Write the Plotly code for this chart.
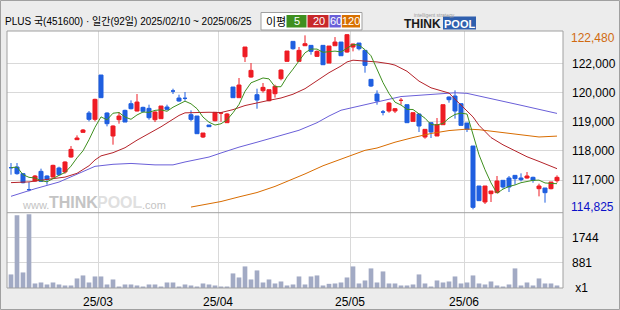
import plotly.graph_objects as go

# ---------------- data ----------------
dates = ["2025-02-10", "2025-02-11", "2025-02-12", "2025-02-13", "2025-02-14", "2025-02-17", "2025-02-18",
         "2025-02-19", "2025-02-20", "2025-02-21", "2025-02-24", "2025-02-25", "2025-02-26", "2025-02-27",
         "2025-02-28",
         "2025-03-04", "2025-03-05", "2025-03-06", "2025-03-07", "2025-03-10", "2025-03-11", "2025-03-12",
         "2025-03-13", "2025-03-14", "2025-03-17", "2025-03-18", "2025-03-19", "2025-03-20", "2025-03-21",
         "2025-03-24", "2025-03-25", "2025-03-26", "2025-03-27", "2025-03-28", "2025-03-31",
         "2025-04-01", "2025-04-02", "2025-04-03", "2025-04-04", "2025-04-07", "2025-04-08", "2025-04-09",
         "2025-04-10", "2025-04-11", "2025-04-14", "2025-04-15", "2025-04-16", "2025-04-17", "2025-04-18",
         "2025-04-21", "2025-04-22", "2025-04-23", "2025-04-24", "2025-04-25", "2025-04-28", "2025-04-29",
         "2025-04-30",
         "2025-05-02", "2025-05-07", "2025-05-08", "2025-05-09", "2025-05-12", "2025-05-13", "2025-05-14",
         "2025-05-15", "2025-05-16", "2025-05-19", "2025-05-20", "2025-05-21", "2025-05-22", "2025-05-23",
         "2025-05-26", "2025-05-27", "2025-05-28", "2025-05-29", "2025-05-30",
         "2025-06-02", "2025-06-04", "2025-06-05", "2025-06-09", "2025-06-10", "2025-06-11", "2025-06-12",
         "2025-06-13", "2025-06-16", "2025-06-17", "2025-06-18", "2025-06-19", "2025-06-20", "2025-06-23",
         "2025-06-24", "2025-06-25"]

opens = [117424, 117447, 117218, 116668, 116966, 117298, 117138, 117103, 117413, 117275,
         117791, 118387, 118639, 119303, 119086, 120610, 119303, 118513, 119074, 119395,
         119624, 119372, 119498, 119464, 119074, 119109, 119510, 120060, 119819, 119808,
         119246, 119200, 118478, 118891, 119040, 119303, 118971, 120197, 119831, 121240,
         120541, 119934, 120071, 119727, 119968, 120484, 121080, 121767, 121080, 121618,
         121630, 121252, 121630, 121022, 121618, 121744, 121401, 121573, 121710, 121458,
         120461, 119957, 119338, 119372, 119372, 119739, 119590, 119017, 119269, 118478,
         118971, 118513, 118902, 119853, 119888, 119624, 118960, 118169, 116794, 116244,
         116530, 116565, 116989, 117069, 117160, 117069, 117069, 117092, 116702, 116725,
         116702, 116977]

highs = [117584, 117584, 117241, 116931, 117172, 117390, 117160, 117527, 117458, 117642,
         118169, 118535, 118753, 119372, 119796, 120610, 119326, 118879, 119338, 119418,
         119739, 119957, 119521, 119590, 119361, 119544, 119590, 120140, 119934, 120025,
         119395, 119200, 118616, 118891, 119338, 119303, 119303, 120197, 120507, 121573,
         121022, 120140, 120335, 120106, 120277, 120805, 121435, 121767, 121573, 121974,
         121630, 121458, 121630, 121607, 121916, 121744, 122019, 121687, 121710, 121458,
         120461, 120083, 119407, 119682, 119475, 119819, 119590, 119315, 119269, 118742,
         118971, 119132, 119590, 119876, 120083, 119624, 118960, 118169, 116794, 116794,
         116622, 117138, 116989, 117138, 117160, 117229, 117275, 117115, 116874, 116725,
         116931, 117160]

lows = [117183, 117183, 116885, 116610, 116943, 116931, 116840, 117080, 117160, 117218,
        117768, 118375, 118627, 119017, 119017, 119831, 118845, 118215, 118937, 118994,
        119430, 119361, 119315, 119074, 118994, 119109, 119395, 119957, 119693, 119727,
        119017, 118593, 118444, 118834, 119017, 119006, 118960, 119831, 119831, 121057,
        120518, 119452, 120003, 119704, 119831, 120427, 121080, 121481, 121057, 121618,
        121309, 121229, 120965, 121022, 121618, 121274, 121378, 121424, 121458, 120690,
        120197, 119590, 119223, 119315, 119303, 119590, 118971, 119017, 118650, 118421,
        118444, 118513, 118902, 119659, 119109, 118879, 118650, 115992, 116290, 116175,
        116244, 116565, 116702, 116587, 116840, 116954, 117046, 116908, 116438, 116221,
        116679, 116908]

closes = [117424, 117218, 116908, 116668, 117138, 116954, 117023, 117504, 117183, 117619,
          118054, 118444, 118719, 119086, 119773, 119831, 118937, 118857, 119200, 118994,
          119452, 119681, 119361, 119143, 119338, 119544, 119430, 120060, 119716, 119808,
          119086, 118593, 118616, 118834, 119326, 119303, 119269, 119831, 120266, 121573,
          120770, 119750, 120186, 120106, 120220, 120782, 121435, 121515, 121458, 121687,
          121424, 121424, 120965, 121607, 121744, 121274, 121997, 121676, 121515, 120942,
          120232, 119716, 119338, 119647, 119452, 119739, 118971, 119315, 118857, 118742,
          118650, 118902, 119590, 119762, 119372, 118879, 118742, 116060, 116290, 116794,
          116622, 116966, 116759, 116759, 117046, 117011, 117138, 116989, 116794, 116565,
          116931, 117092]

# R = red (up) candle, B = blue (down) candle, as coloured in the picture
direction = list("BBBBRBBRBR" "RRRBRBBRRB" "BRBBRRBBBB" "BBRBRRRBRR" "RBRRRRRBRR"
                 "BRBRRBRRBB" "BBBRRRBRBR" "BRRBBBBBBR" "RRBBBBRBRB" "RR")

volume = [470, 2523, 539, 2558, 157, 191, 122, 191, 122, 87,
          87, 331, 435, 191, 400, 400, 122, 296, 52, 122,
          122, 87, 52, 122, 122, 52, 191, 191, 52, 122,
          87, 52, 157, 122, 87, 52, 52, 505, 365, 748,
          296, 609, 191, 296, 157, 226, 87, 122, 400, 122,
          400, 435, 87, 145, 157, 191, 365, 748, 157, 261,
          679, 191, 574, 157, 157, 87, 87, 122, 470, 157,
          52, 261, 191, 226, 400, 157, 191, 435, 157, 122,
          226, 87, 52, 122, 679, 87, 191, 87, 331, 157,
          157, 87]

ma5 = [117424, 117447, 117183, 117092, 117071, 116977, 116938, 117057, 117160, 117257,
       117477, 117761, 118004, 118384, 118815, 119171, 119069, 119297, 119320, 119164,
       119088, 119237, 119338, 119326, 119395, 119413, 119363, 119503, 119618, 119712,
       119620, 119453, 119164, 118987, 118891, 118934, 119070, 119313, 119599, 120048,
       120342, 120438, 120509, 120477, 120206, 120209, 120546, 120812, 121082, 121375,
       121504, 121502, 121392, 121421, 121433, 121403, 121517, 121660, 121641, 121481,
       121272, 120816, 120349, 119975, 119677, 119578, 119429, 119425, 119267, 119125,
       118907, 118893, 118948, 119129, 119255, 119301, 119269, 118563, 117869, 117353,
       116902, 116546, 116686, 116780, 116830, 116908, 116943, 116989, 116996, 116899,
       116883, 116874]

ma20_at = [0, 3, 6, 9, 11, 12, 13, 14, 15, 17, 19, 21, 23, 25, 27, 28, 29, 31, 33, 35,
           37, 39, 41, 43, 45, 47, 49, 51, 53, 55, 56, 57, 59, 61, 63, 64, 66, 68, 70, 72,
           73, 74, 75, 76, 77, 78, 80, 82, 84, 86, 88, 91]
ma20 = [116910, 116935, 117020, 117100, 117230, 117350, 117490, 117690, 117830, 117940,
        118110, 118370, 118590, 118830, 119090, 119220, 119310, 119330, 119330, 119320,
        119420, 119560, 119660, 119740, 119820, 119950, 120140, 120410, 120690, 120920,
        121060, 121120, 121100, 121060, 121000, 120950, 120740, 120400, 120170, 120050,
        119990, 119780, 119580, 119360, 119170, 118880, 118460, 118210, 118000, 117800,
        117640, 117390]

ma60_at = [0, 4, 8, 12, 14, 17, 20, 24, 27, 29, 31, 33, 35, 38, 41, 45, 48, 51, 53, 55,
           57, 59, 62, 65, 68, 71, 74, 76, 79, 82, 85, 88, 91]
ma60 = [116440, 116700, 116930, 117280, 117470, 117540, 117570, 117520, 117520, 117620,
        117700, 117790, 117930, 118130, 118300, 118520, 118710, 118970, 119200, 119400,
        119500, 119580, 119730, 119870, 119920, 119970, 120000, 119980, 119850, 119720,
        119570, 119430, 119290]

ma120_at = [30, 32, 35, 38, 41, 44, 46, 49, 52, 55, 57, 59, 61, 64, 67, 70, 73, 76, 78, 80,
            82, 85, 88, 91]
ma120 = [116070, 116140, 116260, 116420, 116570, 116780, 116950, 117210, 117490, 117720,
         117860, 118020, 118100, 118300, 118460, 118600, 118700, 118750, 118730, 118680,
         118650, 118560, 118480, 118510]

month_ticks = [14.5, 34.5, 56.5, 75.5]          # boundaries between months (candle index)
month_labels = ["25/03", "25/04", "25/05", "25/06"]
price_ticks = [117000, 118000, 119000, 120000, 121000]
price_labels = ["117,000", "118,000", "119,000", "120,000", "122,000"]
vol_ticks = [0, 881, 1744]
vol_labels = ["\u00a0x1", "881", "1744"]
max_label, min_label = "122,480", "114,825"
title_text = "PLUS 국(451600) · 일간(92일) 2025/02/10 ~ 2025/06/25"

assert all(len(a) == 92 for a in [dates, opens, highs, lows, closes, direction, volume, ma5])

# ---------------- style ----------------
RED, BLUE = "#ee1c24", "#1f5fe0"
C5, C20, C60, C120 = "#3f8f1f", "#b4232a", "#6a5fd8", "#d86c00"
VOLC = "#a2aac4"
GRID = "#d9d9d9"
FRAME = "#a0a0a0"
NUMFONT = "Liberation Sans, Arial, sans-serif"
KFONT = "Liberation Sans, Noto Sans CJK KR, sans-serif"

L, R, T, B = 7, 57, 31, 22
W, H = 620, 310
PW, PH = W - L - R, H - T - B


def px2x(px):
    return (px - L) / PW


def py2y(py):
    return (H - B - py) / PH


VOL_TOP = py2y(212.7)

x_idx = list(range(len(dates)))
fig = go.Figure()

# moving averages (under the candles)
for xs, ys, col in ((ma120_at, ma120, C120), (ma60_at, ma60, C60),
                    (ma20_at, ma20, C20), (x_idx, ma5, C5)):
    fig.add_trace(go.Scatter(x=xs, y=ys, mode="lines", line=dict(color=col, width=1),
                             hoverinfo="skip", showlegend=False, xaxis="x", yaxis="y"))


def pick(arr, idx):
    return [arr[i] for i in idx]


for key, col in (("R", RED), ("B", BLUE)):
    idx = [i for i, d in enumerate(direction) if d == key]
    fig.add_trace(go.Candlestick(
        x=pick(x_idx, idx), open=pick(opens, idx), high=pick(highs, idx),
        low=pick(lows, idx), close=pick(closes, idx),
        increasing=dict(line=dict(color=col, width=1), fillcolor=col),
        decreasing=dict(line=dict(color=col, width=1), fillcolor=col),
        whiskerwidth=0, hoverinfo="skip", showlegend=False, xaxis="x", yaxis="y"))

fig.add_trace(go.Bar(x=x_idx, y=volume, width=0.78, marker=dict(color=VOLC, line=dict(width=0)),
                     hoverinfo="skip", showlegend=False, xaxis="x", yaxis="y2"))

shapes = [
    # outer frame of the image
    dict(type="rect", xref="paper", yref="paper", x0=px2x(0.5), x1=px2x(619.5),
         y0=py2y(309.5), y1=py2y(0.5), line=dict(color=FRAME, width=1), layer="below"),
    # chart frame and panel separator
    dict(type="rect", xref="paper", yref="paper", x0=0, x1=1, y0=0, y1=1,
         line=dict(color=FRAME, width=1)),
    dict(type="line", xref="paper", yref="paper", x0=0, x1=1, y0=VOL_TOP, y1=VOL_TOP,
         line=dict(color=FRAME, width=1)),
    # MA legend box
    dict(type="rect", xref="paper", yref="paper", x0=px2x(261), x1=px2x(362),
         y0=py2y(30), y1=py2y(12.5), fillcolor="white", line=dict(color=FRAME, width=1),
         layer="below"),
]
legend_boxes = [(286.5, 306.5, C5, "5"), (307.5, 328.5, "#c8282a", "20"),
                (329.5, 340.8, "#6a5fd8", "60"), (341.8, 360, "#d87000", "120")]
for x0, x1, col, _ in legend_boxes:
    shapes.append(dict(type="rect", xref="paper", yref="paper", x0=px2x(x0), x1=px2x(x1),
                       y0=py2y(27.5), y1=py2y(15), fillcolor=col, line=dict(width=0),
                       layer="below"))
# logo box
shapes.append(dict(type="rect", xref="paper", yref="paper", x0=px2x(443), x1=px2x(476),
                   y0=py2y(29.5), y1=py2y(16.5), fillcolor="#2f5fae", line=dict(width=0),
                   layer="below"))

annotations = []


def ann(text, px, py, size, color, xanchor="left", family=NUMFONT, yanchor="middle"):
    annotations.append(dict(text=text, x=px2x(px), y=py2y(py), xref="paper", yref="paper",
                            xanchor=xanchor, yanchor=yanchor, showarrow=False,
                            borderpad=0, font=dict(size=size, color=color, family=family)))


ann(title_text, 4, 22, 10, "#000000", family=KFONT)
ann("이평", 264.5, 21.5, 11, "#000000", family="Noto Sans CJK KR")
for x0, x1, col, lab in legend_boxes:
    ann(lab, (x0 + x1) / 2 + 0.5, 21.5, 11, "#ffffff", xanchor="center")
ann("<b>THINK</b>", 403, 23.5, 12, "#1a1a1a", family="Liberation Sans, Arial")
ann("<b>POOL</b>", 459.5, 23.5, 11, "#ffffff", xanchor="center", family="Liberation Sans, Arial")
ann("intelligent strategy", 434, 14.5, 5, "#9a9a9a", xanchor="center", family="Liberation Sans, Arial")
# watermark
ann("www.", 21, 205, 11, "#c4c4c4", family="Liberation Sans, Arial")
ann("<b>THINK</b>", 48, 202.5, 16, "#c4c4c4", family="Liberation Sans, Arial")
ann("<b>POOL</b>", 96, 202.5, 16, "#e0e0e0", family="Liberation Sans, Arial")
ann(".com", 141, 205, 11, "#c4c4c4", family="Liberation Sans, Arial")
# range labels
ann(max_label, 570, 38, 12, "#d06a10")
ann(min_label, 570, 206.5, 12, "#0a10c8")

fig.update_layout(
    template="none",
    width=W, height=H, margin=dict(l=L, r=R, t=T, b=B, pad=0, autoexpand=False),
    paper_bgcolor="#ececec", plot_bgcolor="#ffffff",
    showlegend=False, hovermode=False,
    boxgap=0.33, boxgroupgap=0,
    shapes=shapes, annotations=annotations,
    xaxis=dict(range=[-0.667, 92.0], anchor="y2", tickmode="array", tickvals=month_ticks,
               ticktext=month_labels, showgrid=True, gridcolor=GRID, gridwidth=1,
               zeroline=False, showline=False, ticks="", ticklabelstandoff=5, automargin=False,
               tickfont=dict(size=12, color="#000000", family=NUMFONT),
               rangeslider=dict(visible=False), fixedrange=True),
    yaxis=dict(domain=[VOL_TOP, 1], range=[115876, 122124], side="right", anchor="x",
               tickmode="array", tickvals=price_ticks, ticktext=price_labels,
               showgrid=True, gridcolor=GRID, gridwidth=1, zeroline=False, showline=False,
               ticks="", ticklabelstandoff=8, automargin=False,
               tickfont=dict(size=12, color="#000000", family=NUMFONT), fixedrange=True),
    yaxis2=dict(domain=[0, VOL_TOP], range=[0, 2610], side="right", anchor="x",
                tickmode="array", tickvals=vol_ticks, ticktext=vol_labels,
                showgrid=True, gridcolor=GRID, gridwidth=1, zeroline=False, showline=False,
                ticks="", ticklabelstandoff=8, automargin=False,
                tickfont=dict(size=12, color="#000000", family=NUMFONT), fixedrange=True),
)

fig.write_html("out.html", config=dict(displayModeBar=False, staticPlot=True))
